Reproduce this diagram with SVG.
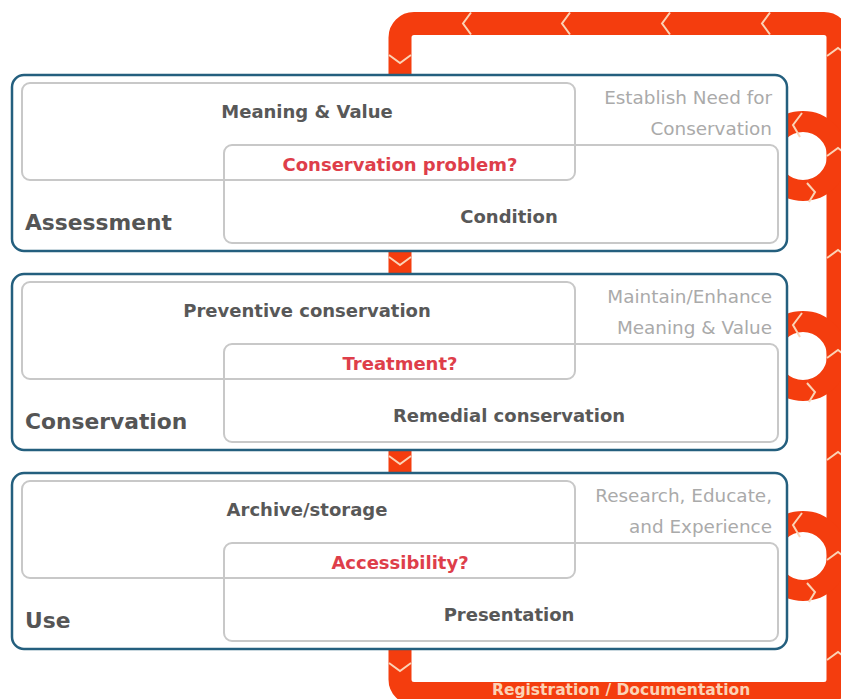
<svg xmlns="http://www.w3.org/2000/svg" width="841" height="699" viewBox="0 0 841 699">
<defs>
<style>
.band{fill:none;stroke:#f43d0e;stroke-width:23}
.ring{fill:none;stroke:#f43d0e;stroke-width:21}
.chev{fill:none;stroke:#fbd3b6;stroke-width:2;stroke-linejoin:miter}
.outer{fill:#ffffff;stroke:#245f7e;stroke-width:2.5}
.inner{fill:none;stroke:#c8c8c8;stroke-width:2}
.lbl{font-family:"DejaVu Sans",Verdana,sans-serif;font-weight:bold;font-size:18px;fill:#585858;text-anchor:middle}
.q{fill:#de3e4a}
.stage{font-family:"DejaVu Sans",Verdana,sans-serif;font-weight:bold;font-size:21.8px;fill:#555555}
.note{font-family:"DejaVu Sans",Verdana,sans-serif;font-size:18.4px;fill:#aaaaaa;text-anchor:end}
.reg{font-family:"DejaVu Sans",Verdana,sans-serif;font-weight:bold;font-size:15.5px;fill:#fbd3b6}
</style>
<path id="v" d="M-11,-8 L0,0 L11,-8"/>
</defs>
<rect width="841" height="699" fill="#ffffff"/>
<g id="connectors">
<rect class="band" x="400" y="23.5" width="438" height="670" rx="14"/>
<circle class="ring" cx="803" cy="156" r="34.5"/>
<circle class="ring" cx="803" cy="356" r="34.5"/>
<circle class="ring" cx="803" cy="556" r="34.5"/>
<g class="chev">
<use href="#v" transform="translate(400,63)"/>
<use href="#v" transform="translate(400,265)"/>
<use href="#v" transform="translate(400,464)"/>
<use href="#v" transform="translate(400,671)"/>
<use href="#v" transform="translate(463,23.5) rotate(90)"/>
<use href="#v" transform="translate(562,23.5) rotate(90)"/>
<use href="#v" transform="translate(662,23.5) rotate(90)"/>
<use href="#v" transform="translate(762,23.5) rotate(90)"/>
<use href="#v" transform="translate(838,48) rotate(180)"/>
<use href="#v" transform="translate(838,148) rotate(180)"/>
<use href="#v" transform="translate(838,250) rotate(180)"/>
<use href="#v" transform="translate(838,350) rotate(180)"/>
<use href="#v" transform="translate(838,452) rotate(180)"/>
<use href="#v" transform="translate(838,552) rotate(180)"/>
<use href="#v" transform="translate(838,652) rotate(180)"/>
<polyline points="802,113 793,125 800,137"/>
<polyline points="807,183 815,192 809,202"/>
<polyline points="802,313 793,325 800,337"/>
<polyline points="807,383 815,392 809,402"/>
<polyline points="802,513 793,525 800,537"/>
<polyline points="807,583 815,592 809,602"/>
</g>
<text class="reg" x="492" y="695">Registration / Documentation</text>
</g>
<g id="assessment">
<rect class="outer" x="12" y="75" width="775" height="176" rx="12"/>
<rect class="inner" x="22" y="83" width="553" height="97" rx="8"/>
<rect class="inner" x="224" y="145" width="554" height="98" rx="8"/>
<text class="lbl" x="307" y="118">Meaning &amp; Value</text>
<text class="lbl q" x="400" y="171">Conservation problem?</text>
<text class="lbl" x="509" y="223">Condition</text>
<text class="stage" x="25" y="230">Assessment</text>
<text class="note" x="772" y="104">Establish Need for</text>
<text class="note" x="772" y="135">Conservation</text>
</g>
<g id="conservation">
<rect class="outer" x="12" y="274" width="775" height="176" rx="12"/>
<rect class="inner" x="22" y="282" width="553" height="97" rx="8"/>
<rect class="inner" x="224" y="344" width="554" height="98" rx="8"/>
<text class="lbl" x="307" y="317">Preventive conservation</text>
<text class="lbl q" x="400" y="370">Treatment?</text>
<text class="lbl" x="509" y="422">Remedial conservation</text>
<text class="stage" x="25" y="429">Conservation</text>
<text class="note" x="772" y="303">Maintain/Enhance</text>
<text class="note" x="772" y="334">Meaning &amp; Value</text>
</g>
<g id="use">
<rect class="outer" x="12" y="473" width="775" height="176" rx="12"/>
<rect class="inner" x="22" y="481" width="553" height="97" rx="8"/>
<rect class="inner" x="224" y="543" width="554" height="98" rx="8"/>
<text class="lbl" x="307" y="516">Archive/storage</text>
<text class="lbl q" x="400" y="569">Accessibility?</text>
<text class="lbl" x="509" y="621">Presentation</text>
<text class="stage" x="25" y="628">Use</text>
<text class="note" x="772" y="502">Research, Educate,</text>
<text class="note" x="772" y="533">and Experience</text>
</g>
</svg>
